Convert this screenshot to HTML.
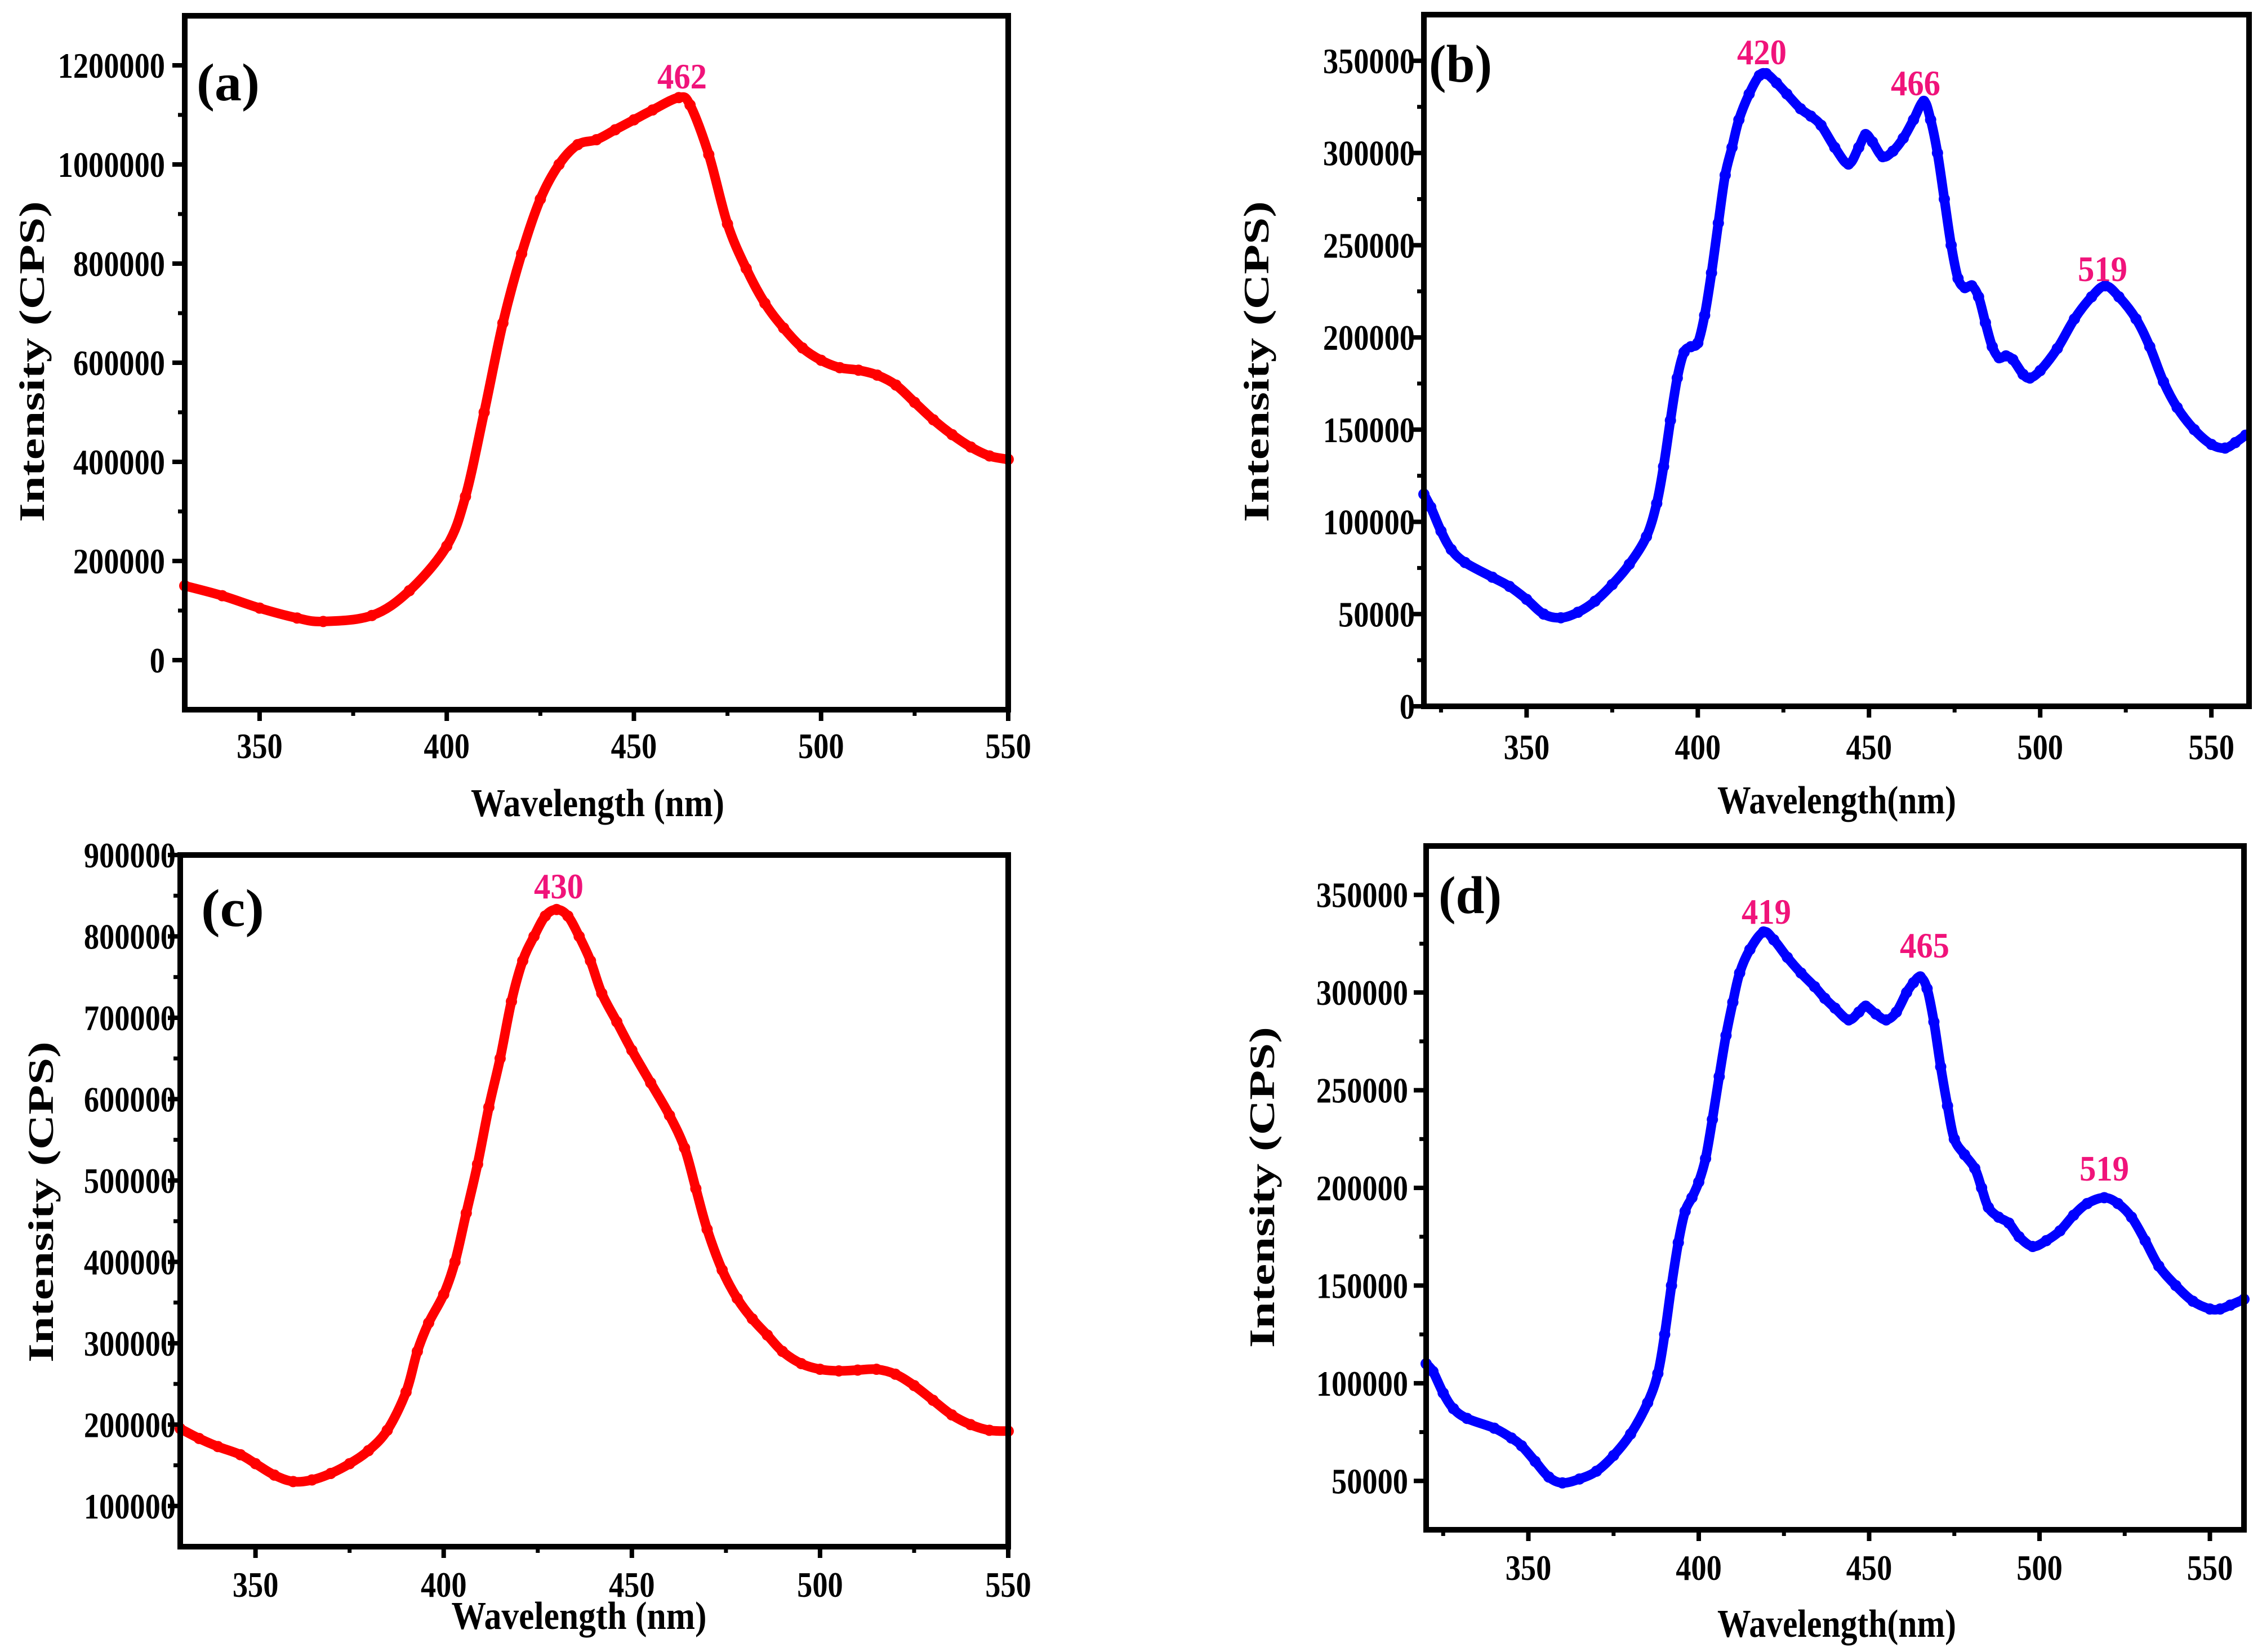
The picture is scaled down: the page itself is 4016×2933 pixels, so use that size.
<!DOCTYPE html>
<html><head><meta charset="utf-8"><style>
html,body{margin:0;padding:0;background:#fff;overflow:hidden;}
svg{display:block;}
text{font-family:"Liberation Serif",serif;font-weight:bold;}
</style></head><body>
<svg id="fig" width="4016" height="2933" viewBox="0 0 4016 2933" xmlns="http://www.w3.org/2000/svg"></svg>
<script>
// ---- data ----
const aX=[330,340,350,360,367,380,390,400,405,410,415,420,425,430,435,440,445,450,455,462,465,470,475,480,485,490,495,500,505,510,515,520,525,530,535,540,545,550];
const aY=[150000,130000,105000,85000,78000,90000,140000,230000,330000,500000,680000,820000,930000,1000000,1040000,1050000,1070000,1090000,1110000,1135000,1120000,1020000,880000,790000,720000,670000,630000,605000,590000,585000,575000,555000,520000,485000,455000,430000,412000,405000];
const bX=[320,322,325,328,332,340,345,350,355,360,365,370,375,380,385,388,390,392,394,396,398,400,402,404,406,408,410,412,415,418,420,423,426,430,433,436,440,444,447,449,451,454,457,460,463,466,468,470,472,474,476,478,480,482,484,486,488,490,492,495,497,500,505,510,515,519,523,528,532,536,540,545,550,554,557,560];
const bY=[115000,108000,95000,85000,78000,70000,65000,58000,50000,48000,51000,57000,66000,77000,92000,110000,130000,155000,178000,192000,195000,197000,212000,235000,262000,288000,303000,318000,332000,342000,343000,338000,332000,324000,320000,315000,303000,294000,303000,310000,306000,298000,301000,308000,318000,328000,318000,300000,275000,250000,232000,227000,228000,222000,208000,195000,189000,190000,188000,180000,178000,182000,194000,210000,222000,228000,222000,210000,195000,176000,162000,150000,142000,140000,143000,147000];
const cX=[330,335,340,346,350,355,360,365,370,375,380,385,390,393,396,400,403,406,409,412,415,418,421,424,427,430,433,436,439,442,446,450,455,460,464,467,470,474,478,482,486,490,495,500,505,510,515,520,525,530,535,540,545,550];
const cY=[195000,183000,173000,163000,152000,138000,130000,132000,140000,152000,168000,193000,240000,290000,325000,360000,400000,460000,520000,590000,650000,720000,770000,800000,825000,833000,825000,800000,770000,730000,695000,660000,620000,580000,540000,490000,440000,390000,355000,330000,310000,290000,275000,268000,266000,267000,268000,262000,248000,230000,212000,200000,193000,192000];
const dX=[320,322,325,328,332,340,345,348,352,356,360,365,370,375,380,385,388,390,392,394,396,398,400,402,404,406,408,410,412,415,419,422,426,430,434,437,440,444,447,449,452,455,458,461,463,465,467,469,471,473,475,478,481,483,485,488,491,494,498,502,506,510,514,519,523,527,531,535,540,545,550,553,556,560];
const dY=[110000,106000,95000,87000,82000,77000,72000,68000,60000,52000,49000,51000,55000,63000,74000,90000,105000,125000,150000,172000,188000,195000,203000,215000,235000,257000,278000,295000,310000,322000,331000,327000,318000,310000,303000,297000,292000,286000,290000,293000,289000,286000,290000,300000,305000,308000,302000,285000,262000,242000,225000,217000,210000,200000,190000,185000,182000,175000,170000,173000,178000,186000,192000,195000,192000,185000,173000,160000,150000,142000,138000,138000,140000,143000];
const xTicks=[350,400,450,500,550];
const aTicks=[0,200000,400000,600000,800000,1000000,1200000];
const bTicks=[0,50000,100000,150000,200000,250000,300000,350000];
const cTicks=[100000,200000,300000,400000,500000,600000,700000,800000,900000];
const dTicks=[50000,100000,150000,200000,250000,300000,350000];
const aPeaks=["462"], bPeaks=["420","466","519"], cPeaks=["430"], dPeaks=["419","465","519"];

const NS="http://www.w3.org/2000/svg";
const svg=document.getElementById('fig');
function mk(tag,attrs,parent){const e=document.createElementNS(NS,tag);for(const k in attrs)e.setAttribute(k,attrs[k]);(parent||svg).appendChild(e);return e;}

function panel(o){
  const g=mk('g',{});
  
  
  const sx=v=>o.L+(v-o.x0)/(o.x1-o.x0)*(o.R-o.L);
  const sy=v=>o.B-(v-o.y0)/(o.y1-o.y0)*(o.B-o.T);
  const pts=o.xs.map((x,i)=>[sx(x),sy(o.ys[i])]);
  let d='M'+pts[0][0]+','+pts[0][1];
  for(let i=0;i<pts.length-1;i++){
    const p0=pts[Math.max(0,i-1)],p1=pts[i],p2=pts[i+1],p3=pts[Math.min(pts.length-1,i+2)];
    const c1=[p1[0]+(p2[0]-p0[0])/6,p1[1]+(p2[1]-p0[1])/6];
    const c2=[p2[0]-(p3[0]-p1[0])/6,p2[1]-(p3[1]-p1[1])/6];
    d+=` C${c1[0]},${c1[1]} ${c2[0]},${c2[1]} ${p2[0]},${p2[1]}`;
  }
  const ln=mk('path',{d:d,fill:'none',stroke:o.color,'stroke-width':17,'stroke-linecap':'round','stroke-linejoin':'round'},g);
  
  
  pts.forEach(p=>{
    const c=mk('circle',{cx:p[0],cy:p[1],r:10,fill:o.color},g);
    
    
  });
  const fr=mk('rect',{x:o.L,y:o.T,width:o.R-o.L,height:o.B-o.T,fill:'none',stroke:'#000','stroke-width':10},g);
  
  
  xTicks.forEach(t=>{
    const X=sx(t);
    mk('line',{x1:X,y1:o.B,x2:X,y2:o.B+20,stroke:'#000','stroke-width':8},g);
    const m=sx(t-25); if(m>o.L+5) mk('line',{x1:m,y1:o.B,x2:m,y2:o.B+11,stroke:'#000','stroke-width':7},g);
    const tx=mk('text',{transform:`translate(${X},${o.xlb}) scale(0.85,1)`,'text-anchor':'middle','font-size':64},g);
    tx.textContent=t;
    
    
  });
  const step=o.ticks[1]-o.ticks[0];
  o.ticks.forEach(t=>{
    const Y=sy(t);
    mk('line',{x1:o.L,y1:Y,x2:o.L-22,y2:Y,stroke:'#000','stroke-width':8},g);
    const m=sy(t+step/2); if(m>o.T+5) mk('line',{x1:o.L,y1:m,x2:o.L-12,y2:m,stroke:'#000','stroke-width':7},g);
    const ty=mk('text',{transform:`translate(${o.ylr},${Y+22}) scale(0.85,1)`,'text-anchor':'end','font-size':64},g);
    ty.textContent=t;
    
    
  });
  const m0=sy(o.ticks[0]-step/2); if(m0<o.B-5) mk('line',{x1:o.L,y1:m0,x2:o.L-12,y2:m0,stroke:'#000','stroke-width':7},g);
  const xt=mk('text',{x:o.xtx,y:o.xty,'text-anchor':'middle','font-size':70,textLength:o.xtl,lengthAdjust:'spacingAndGlyphs'},g);
  xt.textContent=o.xtitle;
  
  
  const yt=mk('text',{transform:`translate(${o.ytx},${o.yty}) rotate(-90)`,'text-anchor':'middle','font-size':64,textLength:570,lengthAdjust:'spacingAndGlyphs'},g);
  yt.textContent='Intensity (CPS)';
  
  
  const pl=mk('text',{x:o.plx,y:o.ply,'font-size':94,textLength:112,lengthAdjust:'spacingAndGlyphs'},g);
  pl.textContent='('+o.id+')';
  
  
  o.peaks.forEach((p,i)=>{
    const pk=mk('text',{x:o.pk[i][0],y:o.pk[i][1],'text-anchor':'middle','font-size':64,fill:'#f0137a',textLength:88,lengthAdjust:'spacingAndGlyphs'},g);
    pk.textContent=p;
    
    
  });
}

panel({id:'a',color:'#ff0000',xs:aX,ys:aY,ticks:aTicks,peaks:aPeaks,L:328,R:1790,T:28,B:1260,x0:330,x1:550,y0:-100000,y1:1300000,
  xlb:1346,ylr:293,xtitle:'Wavelength (nm)',xtx:1061,xty:1449,xtl:450,ytx:78,yty:642,plx:349,ply:178,pk:[[1211,157]]});
panel({id:'b',color:'#0000ff',xs:bX,ys:bY,ticks:bTicks,peaks:bPeaks,L:2528,R:3993,T:26,B:1254,x0:320,x1:561,y0:0,y1:375000,
  xlb:1348,ylr:2512,xtitle:'Wavelength(nm)',xtx:3261,xty:1444,xtl:424,ytx:2252,yty:642,plx:2537,ply:145,pk:[[3128,114],[3401,169],[3733,499]]});
panel({id:'c',color:'#ff0000',xs:cX,ys:cY,ticks:cTicks,peaks:cPeaks,L:320,R:1790,T:1518,B:2746,x0:330,x1:550,y0:50000,y1:900000,
  xlb:2835,ylr:312,xtitle:'Wavelength (nm)',xtx:1028,xty:2892,xtl:453,ytx:94,yty:2134,plx:357,ply:1644,pk:[[992,1595]]});
panel({id:'d',color:'#0000ff',xs:dX,ys:dY,ticks:dTicks,peaks:dPeaks,L:2532,R:3984,T:1502,B:2716,x0:320,x1:560,y0:25000,y1:375000,
  xlb:2805,ylr:2500,xtitle:'Wavelength(nm)',xtx:3261,xty:2906,xtl:424,ytx:2262,yty:2108,plx:2554,ply:1621,pk:[[3136,1640],[3417,1700],[3736,2096]]});
</script>
</body></html>
